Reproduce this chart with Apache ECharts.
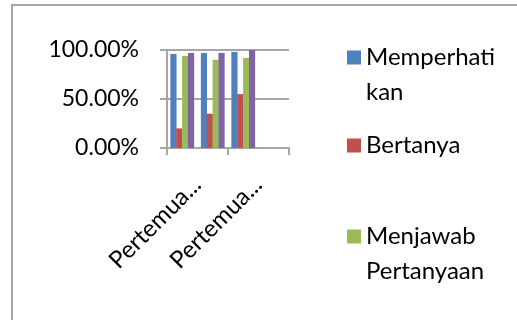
<!DOCTYPE html>
<html>
<head>
<meta charset="utf-8">
<script src="https://cdn.jsdelivr.net/npm/echarts@6/dist/echarts.min.js"></script>
<style>
  html, body { margin: 0; padding: 0; background: #fff; }
  #main { width: 517px; height: 320px; }
</style>
</head>
<body>
<div id="main"></div>
<script>
// data
var categories = ['Pertemuan 1', 'Pertemuan 2', 'Pertemuan 3', 'Pertemuan 4'];
var memperhatikan = [0.96, 0.97, 0.98, null];
var bertanya = [0.2, 0.35, 0.55, null];
var menjawab = [0.94, 0.9, 0.92, null];
var menyimpulkan = [0.97, 0.97, 1.0, null];
var yTicks = [0, 0.5, 1];

var FONT = 'Lato';
var chart = echarts.init(document.getElementById('main'));

// square at the top of a tall box, so the icon sits beside the first line of a 2-line name
var TOP_SQUARE = 'path://M0,0h14v14h-14zM0,49h14';

function legendAt(name, top, twoLines) {
  return {
    data: [name],
    left: 347,
    top: top,
    padding: 0,
    orient: 'vertical',
    icon: twoLines ? TOP_SQUARE : 'rect',
    itemWidth: 14,
    itemHeight: twoLines ? 49 : 14,
    selectedMode: false,
    textStyle: {
      fontFamily: FONT,
      fontSize: 24,
      color: '#000',
      lineHeight: 35
    }
  };
}

chart.setOption({
  animation: false,
  backgroundColor: '#fff',
  graphic: [{
    type: 'rect',
    shape: { x: 12, y: 5, width: 600, height: 400 },
    style: { fill: 'none', stroke: '#a6a6a6', lineWidth: 2 }
  }],
  legend: [
    legendAt('Memperhati\nkan', 40, true),
    legendAt('Bertanya', 128, false),
    legendAt('Menjawab\nPertanyaan', 219, true)
  ],
  grid: {
    left: 167,
    top: 50,
    width: 122,
    height: 98,
    containLabel: false,
    outerBoundsMode: 'none'
  },
  xAxis: {
    type: 'category',
    data: categories,
    axisLine: { lineStyle: { color: '#a6a6a6', width: 2 } },
    axisTick: { show: true, length: 7, lineStyle: { color: '#a6a6a6', width: 2 } },
    axisLabel: {
      interval: 1,
      rotate: 45,
      margin: 18,
      fontFamily: FONT,
      fontSize: 24,
      color: '#000',
      lineHeight: 42,
      verticalAlign: 'top',
      formatter: function (v) { return v.slice(0, 8) + '...'; }
    }
  },
  yAxis: {
    type: 'value',
    min: yTicks[0],
    max: yTicks[yTicks.length - 1],
    interval: yTicks[1] - yTicks[0],
    axisLine: { show: true, lineStyle: { color: '#a6a6a6', width: 2 } },
    axisTick: { show: true, length: 7, lineStyle: { color: '#a6a6a6', width: 2 } },
    splitLine: { lineStyle: { color: '#a6a6a6', width: 2 } },
    axisLabel: {
      margin: 28,
      fontFamily: FONT,
      fontSize: 23,
      color: '#000',
      lineHeight: 30,
      verticalAlign: 'middle',
      padding: [6, 0, 0, 0],
      formatter: function (v) { return (v * 100).toFixed(2) + '%'; }
    }
  },
  series: [
    { name: 'Memperhati\nkan', type: 'bar', data: memperhatikan, itemStyle: { color: '#4F81BD' }, barGap: '-5%', barCategoryGap: '22%' },
    { name: 'Bertanya', type: 'bar', data: bertanya, itemStyle: { color: '#C0504D' } },
    { name: 'Menjawab\nPertanyaan', type: 'bar', data: menjawab, itemStyle: { color: '#9BBB59' } },
    { name: 'Menyimpulkan', type: 'bar', data: menyimpulkan, itemStyle: { color: '#8064A2' } }
  ]
});
</script>
</body>
</html>
